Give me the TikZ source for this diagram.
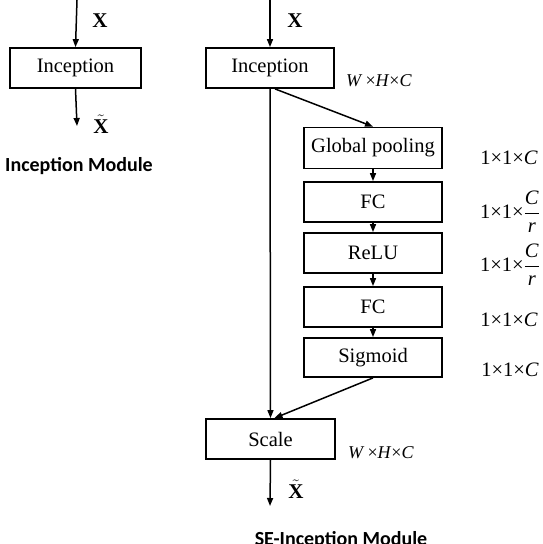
\documentclass[tikz,border=0pt]{standalone}
\usepackage{fontspec}
\setmainfont{Liberation Serif}
\newfontfamily\titlefont{Carlito}
\usetikzlibrary{arrows.meta}

\begin{document}
\begin{tikzpicture}[x=1pt,y=-1pt,
		block/.style={draw,line width=1.8pt,minimum height=40pt,inner sep=0pt,font=\fontsize{20.5}{24}\selectfont},
		flow/.style={line width=1.5pt,-{Triangle[length=8pt,width=6pt]}},
		dimlabel/.style={font=\fontsize{20.5}{24}\selectfont},
		whclabel/.style={font=\fontsize{18}{21}\selectfont},
		xlabel/.style={font=\fontsize{21}{24}\selectfont\bfseries},
		title/.style={font=\fontsize{20}{24}\selectfont\titlefont\bfseries,anchor=base}]
		\useasboundingbox (0,0) rectangle (543,544);
		% plain inception module
		\coordinate (IN0) at (77,0);
		\coordinate (OUT0) at (77,126);
		\node[block,minimum width=131pt] (inc0) at (75.5,68) {Inception};
		\draw[flow] (IN0) -- (inc0.north);
		\draw[flow] (inc0.south) -- (OUT0);
		\node[xlabel] (x0) at (100,21) {X};
		\node[xlabel] (xt0) at (101,124) {$\tilde{\mbox{X}}$};
		\node[title] (t0) at (79,171) {Inception Module};
		% se-inception module
		\coordinate (IN1) at (270,0);
		\coordinate (OUT1) at (270,506);
		\node[block,minimum width=128pt] (inc1) at (270,68) {Inception};
		\node[block,minimum width=138pt,minimum height=41pt] (gp) at (373,148) {Global pooling};
		\node[block,minimum width=138pt] (fc1) at (373,202) {FC};
		\node[block,minimum width=138pt] (relu) at (373,253) {ReLU};
		\node[block,minimum width=138pt] (fc2) at (373,307) {FC};
		\node[block,minimum width=138pt,minimum height=39pt] (sig) at (373,357.5) {Sigmoid};
		\node[block,minimum width=129pt] (scale) at (270.5,439) {Scale};
		\draw[flow] (IN1) -- (inc1.north);
		\draw[flow] (inc1.south) -- (scale.north);
		\draw[flow] ([xshift=5pt]inc1.south) -- (gp.north);
		\draw[flow] (gp) -- (fc1);
		\draw[flow] (fc1) -- (relu);
		\draw[flow] (relu) -- (fc2);
		\draw[flow] (fc2) -- (sig);
		\draw[flow] (sig.south) -- ([xshift=4pt]scale.north);
		\draw[flow] (scale.south) -- (OUT1);
		\node[xlabel] (x1) at (295,21) {X};
		\node[xlabel] (xt1) at (296,489) {$\tilde{\mbox{X}}$};
		\node[title] (t1) at (341,545) {SE-Inception Module};
		% dimensions
		\node[whclabel] (d0) at (379,81) {\textit{W}\,×\textit{H}×\textit{C}};
		\node[dimlabel] (d1) at (509,158) {1×1×\textit{C}};
		\node[dimlabel] (d2) at (510,212) {1×1×$\displaystyle\frac{\mbox{\textit{C}}}{\mbox{\textit{r}}}$};
		\node[dimlabel] (d3) at (510,265) {1×1×$\displaystyle\frac{\mbox{\textit{C}}}{\mbox{\textit{r}}}$};
		\node[dimlabel] (d4) at (509,320) {1×1×\textit{C}};
		\node[dimlabel] (d5) at (510,370) {1×1×\textit{C}};
		\node[whclabel] (d6) at (381,453) {\textit{W}\,×\textit{H}×\textit{C}};
	    \end{tikzpicture}
\end{document}
